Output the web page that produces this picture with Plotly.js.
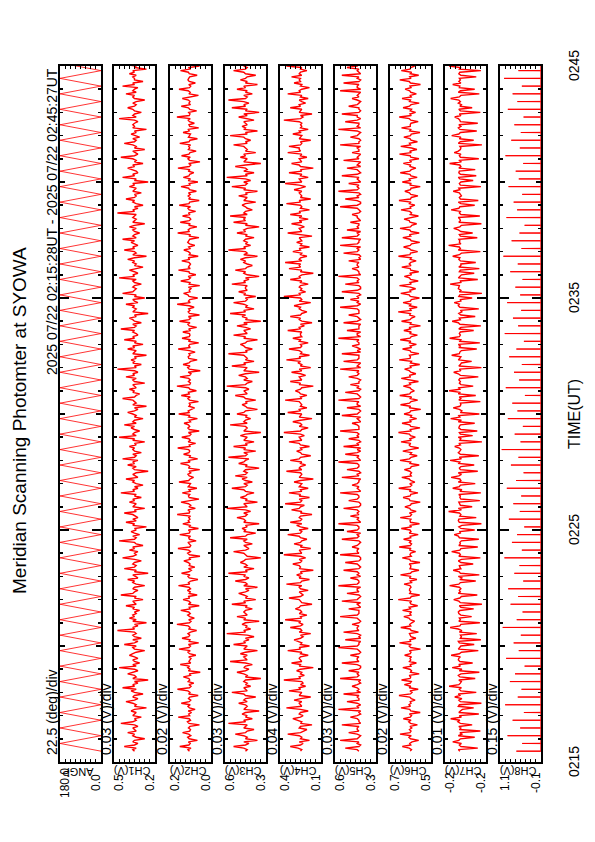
<!DOCTYPE html>
<html><head><meta charset="utf-8">
<script src="https://cdn.plot.ly/plotly-3.0.1.min.js"></script>
<style>
html,body{margin:0;padding:0;background:#fff;width:595px;height:842px;overflow:hidden;}
#wrap{position:absolute;left:0;top:842px;width:842px;height:595px;transform-origin:0 0;transform:rotate(-90deg);}
</style></head>
<body><div id="wrap"><div id="chart"></div></div>
<script>
// ---------------- DATA ----------------
const chartTitle = 'Meridian Scanning Photomter at SYOWA';
const periodText = '2025 07/22 02:15:28UT - 2025 07/22 02:45:27UT';
const timeTitle = 'TIME(UT)';
const timeTickVals = [15, 25, 35, 45];          // minutes after 02:00
const timeTickText = ['0215', '0225', '0235', '0245'];
const dataStartMin = 15 + 28 / 60;              // 02:15:28
const scanHalfSec = 20;                         // one mirror sweep
const samplesPerHalfScan = 5;

const panelNames = ['ANGP', 'CH1(V)', 'CH2(V)', 'CH3(V)', 'CH4(V)', 'CH5(V)', 'CH6(V)', 'CH7(V)', 'CH8(V)'];
const panelScale = ['22.5 (deg)/div', '0.03 (V)/div', '0.02 (V)/div', '0.03 (V)/div', '0.04 (V)/div', '0.03 (V)/div', '0.02 (V)/div', '0.01 (V)/div', '0.15 (V)/div'];
const panelTopLabel = ['180.0', '0.5', '0.2', '0.6', '0.4', '0.6', '0.7', '-0.2', '1.1'];
const panelBotLabel = ['0.0', '0.2', '0.0', '0.3', '0.1', '0.3', '0.5', '-0.2', '-0.1'];
const panelLo = [0, 0.23, 0.03, 0.33, 0.12, 0.34, 0.54, -0.24, -0.10];
const panelHi = [180, 0.47, 0.19, 0.57, 0.44, 0.58, 0.70, -0.16, 1.10];

// scan angle at each sweep turning point (deg)
const angp = [0,180,0,180,0,180,0,180,0,180,0,180,0,180,0,180,0,180,0,180,
0,180,0,180,0,180,0,180,0,180,0,180,0,180,0,180,0,180,0,180,
0,180,0,180,0,180,0,180,0,180,0,180,0,180,0,180,0,180,0,180,
0,180,0,180,0,180,0,180,0,180,0,180,0,180,0,180,0,180,0,180,
0,180,0,180,0,180,0,180,0,180,0];

const ch1 = [
0.35,0.36,0.34,0.41,0.35,0.33,0.36,0.35,0.29,0.34,0.36,0.35,0.39,0.34,0.35,
0.36,0.33,0.35,0.43,0.36,0.34,0.35,0.31,0.36,0.35,0.34,0.37,0.35,0.28,0.35,
0.34,0.36,0.40,0.35,0.33,0.36,0.35,0.30,0.35,0.37,0.34,0.42,0.35,0.36,0.33,
0.35,0.27,0.36,0.34,0.35,0.39,0.36,0.33,0.35,0.44,0.34,0.36,0.32,0.35,0.36,
0.33,0.35,0.38,0.36,0.34,0.29,0.35,0.36,0.34,0.41,0.35,0.33,0.36,0.31,0.35,
0.36,0.34,0.35,0.45,0.35,0.36,0.33,0.35,0.28,0.36,0.34,0.38,0.35,0.36,0.34,
0.35,0.32,0.36,0.35,0.40,0.34,0.35,0.36,0.30,0.35,0.34,0.43,0.36,0.35,0.33,
0.36,0.35,0.29,0.34,0.36,0.35,0.39,0.33,0.35,0.36,0.27,0.35,0.34,0.41,0.35,
0.34,0.36,0.35,0.31,0.35,0.42,0.36,0.34,0.35,0.33,0.38,0.35,0.36,0.30,0.34,
0.35,0.44,0.35,0.34,0.36,0.32,0.35,0.37,0.34,0.35,0.28,0.36,0.35,0.40,0.34,
0.36,0.33,0.35,0.36,0.41,0.34,0.35,0.29,0.36,0.35,0.34,0.38,0.35,0.36,0.31,
0.35,0.34,0.43,0.35,0.36,0.33,0.35,0.30,0.34,0.36,0.35,0.40,0.33,0.35,0.36,
0.34,0.27,0.35,0.36,0.34,0.39,0.35,0.36,0.33,0.42,0.35,0.34,0.36,0.31,0.35,
0.36,0.35,0.38,0.34,0.35,0.29,0.36,0.35,0.44,0.34,0.36,0.35,0.32,0.35,0.37,
0.35,0.41,0.34,0.36,0.35,0.30,0.35,0.34,0.36,0.39,0.35,0.33,0.35,0.28,0.36,
0.34,0.35,0.36,0.42,0.35,0.34,0.32,0.36,0.35,0.38,0.34,0.35,0.36,0.29,0.35,
0.36,0.34,0.40,0.35,0.36,0.33,0.35,0.45,0.34,0.35,0.31,0.36,0.35,0.37,0.34,
0.35,0.28,0.36,0.35,0.34,0.39,0.35,0.36,0.30,0.35,0.34,0.41,0.35,0.36,0.33,
0.34,0.36,0.35,0.43,0.35,0.34,0.36,0.31,0.35,0.36,0.38,0.34,0.35,0.27,0.36,
0.35,0.34,0.36,0.35,0.40,0.33,0.35,0.36,0.29,0.35,0.34,0.42,0.36,0.35,0.34,
0.36,0.35,0.31,0.35,0.36,0.34,0.44,0.35,0.36,0.33,0.35,0.38,0.34,0.30,0.35,
0.34,0.36,0.35,0.39,0.35,0.28,0.36,0.34,0.35,0.41,0.35,0.36,0.33,0.35,0.37,
0.35,0.42,0.34,0.36,0.35,0.32,0.35,0.36,0.34,0.38,0.35,0.29,0.36,0.35,0.34,
0.36,0.35,0.34,0.45,0.35,0.36,0.33,0.35,0.30,0.34,0.36,0.35,0.40,0.35,0.34,
0.35,0.31,0.36,0.35,0.34,0.38,0.35,0.36,0.27,0.35,0.34,0.42,0.35,0.36,0.33,
0.34,0.36,0.39,0.35,0.36,0.30,0.35,0.34,0.36,0.43,0.35,0.33,0.35,0.36,0.29,
0.35,0.34,0.36,0.41,0.35,0.34,0.36,0.32,0.35,0.37,0.34,0.35,0.28,0.36,0.35,
0.36,0.35,0.33,0.35,0.44,0.34,0.36,0.35,0.31,0.35,0.36,0.39,0.35,0.34,0.36,
0.34,0.29,0.35,0.36,0.35,0.40,0.34,0.36,0.35,0.33,0.42,0.35,0.36,0.30,0.35,
0.35,0.36,0.34,0.38,0.35,0.36,0.28,0.35,0.34,0.41,0.36,0.35,0.33,0.35,0.36];

const ch2 = [
0.114,0.120,0.108,0.152,0.116,0.111,0.118,0.083,0.115,0.121,0.109,0.117,0.141,0.113,0.110,
0.118,0.112,0.075,0.116,0.122,0.110,0.115,0.158,0.113,0.117,0.106,0.119,0.092,0.114,0.120,
0.111,0.146,0.115,0.109,0.118,0.113,0.080,0.117,0.112,0.120,0.161,0.114,0.108,0.116,0.097,
0.119,0.113,0.116,0.138,0.110,0.115,0.072,0.118,0.112,0.121,0.114,0.150,0.109,0.116,0.113,
0.108,0.117,0.089,0.114,0.120,0.111,0.155,0.116,0.110,0.118,0.078,0.115,0.112,0.143,0.117,
0.113,0.120,0.110,0.086,0.116,0.112,0.119,0.163,0.114,0.108,0.117,0.095,0.113,0.121,0.111,
0.117,0.148,0.112,0.115,0.076,0.118,0.110,0.116,0.139,0.113,0.119,0.084,0.115,0.111,0.122,
0.110,0.116,0.157,0.113,0.118,0.109,0.081,0.115,0.120,0.112,0.145,0.116,0.107,0.118,0.093,
0.115,0.112,0.119,0.136,0.111,0.116,0.073,0.114,0.121,0.110,0.117,0.159,0.113,0.109,0.116,
0.120,0.088,0.114,0.117,0.110,0.152,0.115,0.112,0.118,0.079,0.116,0.111,0.140,0.114,0.119,
0.112,0.117,0.110,0.162,0.115,0.113,0.120,0.091,0.116,0.109,0.118,0.147,0.112,0.077,0.115,
0.118,0.113,0.142,0.111,0.116,0.085,0.119,0.114,0.110,0.155,0.117,0.112,0.098,0.115,0.120,
0.109,0.116,0.074,0.118,0.113,0.120,0.149,0.112,0.117,0.082,0.114,0.111,0.137,0.116,0.113,
0.117,0.160,0.112,0.115,0.090,0.119,0.111,0.116,0.144,0.113,0.108,0.118,0.076,0.114,0.120,
0.113,0.118,0.135,0.110,0.115,0.083,0.117,0.112,0.156,0.114,0.119,0.109,0.094,0.116,0.111,
0.116,0.079,0.114,0.120,0.111,0.146,0.115,0.118,0.087,0.112,0.117,0.163,0.113,0.110,0.118,
0.111,0.117,0.151,0.113,0.108,0.119,0.072,0.115,0.121,0.112,0.139,0.116,0.110,0.084,0.117,
0.119,0.112,0.116,0.092,0.114,0.158,0.111,0.117,0.113,0.078,0.118,0.110,0.143,0.115,0.112,
0.114,0.140,0.110,0.117,0.086,0.115,0.120,0.112,0.153,0.116,0.109,0.118,0.075,0.114,0.119,
0.112,0.117,0.096,0.115,0.162,0.111,0.118,0.113,0.082,0.116,0.120,0.137,0.112,0.115,0.108,
0.118,0.074,0.115,0.112,0.148,0.117,0.110,0.119,0.089,0.114,0.116,0.157,0.111,0.118,0.113,
0.110,0.116,0.144,0.113,0.119,0.080,0.115,0.111,0.118,0.136,0.112,0.117,0.093,0.114,0.121,
0.117,0.113,0.077,0.116,0.110,0.160,0.114,0.119,0.112,0.085,0.117,0.111,0.150,0.115,0.109,
0.114,0.141,0.112,0.118,0.090,0.115,0.120,0.110,0.154,0.116,0.113,0.076,0.117,0.112,0.119,
0.111,0.118,0.087,0.114,0.117,0.147,0.112,0.115,0.081,0.119,0.110,0.138,0.116,0.113,0.097,
0.119,0.112,0.159,0.115,0.109,0.117,0.073,0.114,0.120,0.111,0.145,0.116,0.112,0.088,0.118,
0.113,0.117,0.110,0.152,0.116,0.112,0.083,0.118,0.114,0.110,0.139,0.115,0.120,0.078,0.113,
0.116,0.095,0.114,0.119,0.111,0.163,0.115,0.112,0.117,0.086,0.113,0.118,0.146,0.110,0.116,
0.112,0.118,0.142,0.113,0.079,0.116,0.111,0.119,0.155,0.114,0.109,0.117,0.091,0.115,0.120,
0.117,0.113,0.084,0.115,0.118,0.149,0.112,0.116,0.075,0.114,0.119,0.137,0.111,0.116,0.113];

const ch3 = [
0.45,0.44,0.46,0.52,0.45,0.43,0.46,0.38,0.45,0.44,0.46,0.51,0.45,0.44,0.40,
0.46,0.45,0.44,0.55,0.45,0.46,0.41,0.45,0.44,0.47,0.45,0.37,0.46,0.45,0.44,
0.45,0.49,0.44,0.46,0.45,0.39,0.45,0.46,0.53,0.44,0.45,0.46,0.42,0.45,0.44,
0.46,0.45,0.36,0.45,0.44,0.46,0.50,0.45,0.43,0.46,0.45,0.41,0.45,0.54,0.44,
0.45,0.46,0.44,0.48,0.45,0.38,0.46,0.45,0.44,0.52,0.45,0.46,0.43,0.45,0.40,
0.44,0.56,0.45,0.46,0.42,0.45,0.44,0.47,0.45,0.37,0.46,0.45,0.50,0.44,0.45,
0.46,0.45,0.41,0.45,0.44,0.53,0.45,0.46,0.39,0.45,0.44,0.46,0.49,0.45,0.43,
0.45,0.38,0.46,0.44,0.45,0.51,0.45,0.43,0.46,0.45,0.55,0.44,0.45,0.40,0.46,
0.44,0.45,0.48,0.46,0.45,0.36,0.44,0.45,0.46,0.52,0.45,0.43,0.45,0.46,0.41,
0.45,0.46,0.44,0.54,0.45,0.44,0.39,0.46,0.45,0.47,0.44,0.45,0.37,0.46,0.45,
0.46,0.50,0.45,0.44,0.46,0.42,0.45,0.56,0.44,0.45,0.46,0.38,0.45,0.44,0.48,
0.45,0.44,0.40,0.45,0.46,0.53,0.45,0.44,0.46,0.41,0.45,0.47,0.44,0.51,0.45,
0.44,0.46,0.45,0.37,0.45,0.44,0.49,0.46,0.45,0.43,0.55,0.45,0.44,0.46,0.39,
0.46,0.45,0.52,0.44,0.45,0.40,0.46,0.45,0.44,0.48,0.45,0.36,0.46,0.45,0.44,
0.45,0.54,0.44,0.46,0.45,0.42,0.45,0.44,0.50,0.46,0.45,0.38,0.44,0.45,0.47,
0.44,0.45,0.39,0.45,0.46,0.51,0.44,0.45,0.46,0.43,0.45,0.56,0.45,0.44,0.41,
0.46,0.44,0.45,0.49,0.45,0.37,0.46,0.45,0.44,0.53,0.45,0.46,0.40,0.45,0.44,
0.45,0.46,0.55,0.44,0.45,0.41,0.45,0.46,0.48,0.45,0.44,0.38,0.46,0.45,0.52,
0.44,0.45,0.46,0.42,0.45,0.50,0.44,0.46,0.36,0.45,0.44,0.47,0.45,0.54,0.45,
0.46,0.40,0.45,0.44,0.46,0.52,0.45,0.44,0.45,0.39,0.46,0.45,0.49,0.44,0.45,
0.45,0.44,0.53,0.45,0.46,0.43,0.45,0.37,0.44,0.46,0.45,0.51,0.45,0.44,0.41,
0.44,0.46,0.45,0.48,0.45,0.38,0.46,0.44,0.45,0.55,0.45,0.46,0.42,0.45,0.44,
0.46,0.45,0.40,0.45,0.44,0.50,0.45,0.46,0.44,0.37,0.45,0.44,0.52,0.45,0.46,
0.45,0.54,0.44,0.46,0.45,0.41,0.44,0.45,0.47,0.45,0.39,0.46,0.45,0.44,0.49,
0.44,0.45,0.38,0.46,0.45,0.53,0.45,0.44,0.46,0.42,0.45,0.56,0.44,0.45,0.40,
0.46,0.44,0.45,0.51,0.45,0.36,0.46,0.45,0.44,0.48,0.45,0.46,0.39,0.45,0.44,
0.45,0.46,0.52,0.44,0.45,0.42,0.45,0.46,0.54,0.44,0.45,0.38,0.46,0.45,0.47,
0.44,0.45,0.46,0.40,0.45,0.49,0.44,0.46,0.37,0.45,0.44,0.53,0.45,0.46,0.43,
0.46,0.55,0.45,0.44,0.46,0.41,0.45,0.44,0.50,0.45,0.46,0.38,0.45,0.44,0.48,
0.45,0.44,0.39,0.45,0.46,0.52,0.45,0.44,0.46,0.43,0.45,0.47,0.36,0.45,0.44];

const ch4 = [
0.28,0.27,0.30,0.36,0.28,0.26,0.29,0.21,0.28,0.27,0.29,0.38,0.28,0.26,0.23,
0.29,0.28,0.19,0.28,0.27,0.30,0.34,0.28,0.26,0.29,0.28,0.22,0.28,0.39,0.27,
0.28,0.29,0.27,0.33,0.28,0.20,0.29,0.28,0.27,0.37,0.28,0.29,0.24,0.28,0.26,
0.27,0.41,0.28,0.29,0.25,0.28,0.27,0.31,0.28,0.18,0.29,0.28,0.35,0.27,0.28,
0.29,0.28,0.22,0.28,0.27,0.38,0.28,0.29,0.21,0.28,0.27,0.30,0.33,0.28,0.26,
0.28,0.20,0.29,0.27,0.28,0.36,0.28,0.26,0.29,0.28,0.40,0.27,0.28,0.23,0.29,
0.27,0.28,0.32,0.29,0.28,0.19,0.27,0.28,0.29,0.37,0.28,0.26,0.28,0.29,0.22,
0.28,0.29,0.27,0.39,0.28,0.27,0.21,0.29,0.28,0.31,0.27,0.28,0.18,0.29,0.28,
0.29,0.34,0.28,0.27,0.29,0.24,0.28,0.41,0.27,0.28,0.29,0.20,0.28,0.27,0.33,
0.28,0.27,0.23,0.28,0.29,0.38,0.28,0.27,0.29,0.22,0.28,0.31,0.27,0.36,0.28,
0.27,0.29,0.28,0.19,0.28,0.27,0.35,0.29,0.28,0.25,0.40,0.28,0.27,0.29,0.21,
0.29,0.28,0.37,0.27,0.28,0.22,0.29,0.28,0.27,0.33,0.28,0.18,0.29,0.28,0.27,
0.28,0.39,0.27,0.29,0.28,0.24,0.28,0.27,0.36,0.29,0.28,0.20,0.27,0.28,0.31,
0.27,0.28,0.21,0.28,0.29,0.37,0.27,0.28,0.29,0.25,0.28,0.41,0.28,0.27,0.22,
0.29,0.27,0.28,0.34,0.28,0.19,0.29,0.28,0.27,0.38,0.28,0.29,0.23,0.28,0.27,
0.28,0.29,0.40,0.27,0.28,0.23,0.28,0.29,0.32,0.28,0.27,0.18,0.29,0.28,0.36,
0.27,0.28,0.29,0.24,0.28,0.35,0.27,0.29,0.20,0.28,0.27,0.30,0.28,0.39,0.28,
0.29,0.21,0.28,0.27,0.29,0.37,0.28,0.27,0.28,0.22,0.29,0.28,0.34,0.27,0.28,
0.28,0.27,0.38,0.28,0.29,0.25,0.28,0.19,0.27,0.29,0.28,0.36,0.28,0.27,0.23,
0.27,0.29,0.28,0.33,0.28,0.20,0.29,0.27,0.28,0.41,0.28,0.29,0.24,0.28,0.27,
0.29,0.28,0.22,0.28,0.27,0.36,0.28,0.29,0.27,0.18,0.28,0.27,0.37,0.28,0.29,
0.28,0.40,0.27,0.29,0.28,0.23,0.28,0.27,0.34,0.28,0.29,0.21,0.28,0.27,0.31,
0.27,0.28,0.29,0.19,0.28,0.38,0.27,0.28,0.29,0.25,0.28,0.35,0.27,0.29,0.22,
0.29,0.27,0.36,0.28,0.29,0.21,0.28,0.27,0.28,0.39,0.28,0.29,0.20,0.28,0.27,
0.28,0.29,0.27,0.33,0.28,0.24,0.29,0.40,0.27,0.28,0.29,0.22,0.28,0.27,0.37,
0.27,0.28,0.18,0.28,0.29,0.35,0.27,0.28,0.29,0.23,0.28,0.27,0.38,0.28,0.29,
0.29,0.37,0.28,0.27,0.28,0.20,0.29,0.28,0.27,0.34,0.28,0.29,0.22,0.28,0.27,
0.28,0.27,0.29,0.41,0.28,0.26,0.28,0.19,0.29,0.28,0.27,0.36,0.28,0.29,0.24,
0.27,0.29,0.22,0.28,0.27,0.38,0.28,0.29,0.27,0.21,0.28,0.27,0.33,0.28,0.29,
0.28,0.35,0.27,0.29,0.28,0.23,0.28,0.27,0.39,0.28,0.29,0.20,0.28,0.27,0.30];

const ch5 = [
0.44,0.45,0.52,0.44,0.43,0.45,0.44,0.55,0.45,0.44,0.43,0.45,0.50,0.44,0.45,
0.45,0.44,0.54,0.43,0.44,0.44,0.45,0.49,0.45,0.43,0.44,0.43,0.56,0.44,0.45,
0.43,0.45,0.51,0.44,0.44,0.45,0.44,0.53,0.43,0.45,0.44,0.45,0.48,0.45,0.43,
0.44,0.43,0.55,0.45,0.44,0.45,0.44,0.50,0.44,0.43,0.43,0.45,0.54,0.44,0.45,
0.45,0.44,0.49,0.44,0.43,0.44,0.45,0.56,0.45,0.44,0.44,0.43,0.52,0.43,0.44,
0.43,0.45,0.53,0.44,0.45,0.45,0.44,0.48,0.44,0.43,0.44,0.45,0.55,0.45,0.44,
0.44,0.44,0.50,0.43,0.44,0.45,0.43,0.54,0.45,0.44,0.43,0.44,0.51,0.44,0.45,
0.45,0.43,0.56,0.45,0.44,0.44,0.45,0.49,0.43,0.45,0.44,0.45,0.53,0.44,0.43,
0.44,0.45,0.52,0.44,0.43,0.43,0.44,0.55,0.44,0.45,0.45,0.44,0.48,0.45,0.44,
0.43,0.44,0.54,0.45,0.44,0.45,0.43,0.51,0.45,0.44,0.44,0.45,0.56,0.43,0.44,
0.45,0.44,0.49,0.44,0.45,0.44,0.45,0.53,0.44,0.43,0.43,0.44,0.50,0.45,0.44,
0.44,0.45,0.55,0.43,0.44,0.45,0.44,0.48,0.45,0.44,0.44,0.43,0.54,0.44,0.45,
0.43,0.44,0.51,0.45,0.44,0.44,0.45,0.56,0.43,0.44,0.45,0.44,0.52,0.45,0.43,
0.45,0.43,0.53,0.44,0.45,0.43,0.44,0.50,0.44,0.45,0.44,0.45,0.55,0.44,0.44,
0.44,0.45,0.48,0.43,0.44,0.45,0.43,0.54,0.45,0.44,0.43,0.44,0.51,0.43,0.45,
0.45,0.44,0.56,0.44,0.43,0.44,0.45,0.52,0.44,0.43,0.45,0.44,0.49,0.44,0.44,
0.43,0.45,0.50,0.45,0.44,0.45,0.44,0.55,0.43,0.45,0.44,0.43,0.53,0.45,0.44,
0.44,0.44,0.54,0.43,0.45,0.43,0.45,0.48,0.44,0.44,0.45,0.44,0.56,0.43,0.45,
0.45,0.43,0.51,0.44,0.44,0.44,0.43,0.53,0.45,0.43,0.44,0.45,0.50,0.44,0.44,
0.44,0.45,0.55,0.45,0.43,0.45,0.44,0.49,0.44,0.45,0.43,0.44,0.54,0.45,0.43,
0.43,0.44,0.52,0.44,0.45,0.44,0.45,0.56,0.43,0.44,0.44,0.45,0.48,0.44,0.45,
0.45,0.44,0.50,0.43,0.44,0.43,0.44,0.53,0.45,0.44,0.45,0.43,0.55,0.45,0.44,
0.44,0.43,0.54,0.45,0.44,0.45,0.43,0.51,0.44,0.45,0.44,0.44,0.49,0.43,0.44,
0.45,0.45,0.48,0.44,0.43,0.44,0.45,0.55,0.45,0.43,0.43,0.45,0.52,0.44,0.45,
0.43,0.44,0.56,0.45,0.44,0.45,0.44,0.50,0.43,0.44,0.45,0.44,0.54,0.45,0.43,
0.44,0.45,0.51,0.43,0.45,0.44,0.43,0.53,0.44,0.45,0.44,0.43,0.48,0.44,0.44,
0.45,0.43,0.55,0.44,0.44,0.43,0.44,0.49,0.45,0.44,0.43,0.45,0.56,0.43,0.45,
0.44,0.44,0.52,0.45,0.43,0.45,0.45,0.54,0.44,0.43,0.44,0.44,0.50,0.45,0.44,
0.43,0.45,0.48,0.44,0.45,0.44,0.43,0.55,0.43,0.45,0.45,0.44,0.53,0.44,0.43,
0.45,0.44,0.54,0.43,0.44,0.45,0.44,0.51,0.45,0.44,0.43,0.45,0.49,0.44,0.45];

const ch6 = [
0.621,0.616,0.625,0.652,0.619,0.623,0.614,0.588,0.620,0.626,0.617,0.661,0.622,0.618,0.624,
0.615,0.622,0.593,0.620,0.627,0.618,0.648,0.621,0.616,0.624,0.582,0.619,0.623,0.657,0.620,
0.626,0.618,0.621,0.602,0.617,0.623,0.665,0.620,0.614,0.622,0.590,0.625,0.619,0.644,0.621,
0.617,0.655,0.622,0.619,0.625,0.586,0.620,0.616,0.623,0.650,0.618,0.621,0.597,0.624,0.619,
0.622,0.616,0.643,0.621,0.618,0.624,0.581,0.619,0.625,0.617,0.663,0.620,0.622,0.599,0.618,
0.620,0.624,0.589,0.617,0.622,0.658,0.619,0.623,0.615,0.604,0.621,0.626,0.646,0.618,0.622,
0.616,0.651,0.620,0.625,0.592,0.618,0.622,0.616,0.668,0.621,0.617,0.584,0.623,0.619,0.624,
0.623,0.618,0.622,0.645,0.616,0.621,0.595,0.624,0.618,0.659,0.620,0.615,0.587,0.622,0.619,
0.619,0.625,0.583,0.620,0.623,0.652,0.617,0.622,0.619,0.600,0.624,0.618,0.664,0.621,0.616,
0.624,0.617,0.647,0.619,0.621,0.590,0.625,0.618,0.622,0.656,0.616,0.623,0.585,0.620,0.622,
0.618,0.660,0.621,0.616,0.624,0.598,0.619,0.623,0.642,0.620,0.617,0.582,0.622,0.625,0.649,
0.621,0.619,0.591,0.624,0.618,0.666,0.621,0.615,0.623,0.603,0.620,0.625,0.654,0.617,0.621,
0.616,0.623,0.644,0.620,0.617,0.586,0.622,0.619,0.661,0.624,0.618,0.594,0.621,0.616,0.650,
0.622,0.588,0.620,0.625,0.619,0.657,0.617,0.622,0.601,0.620,0.624,0.667,0.618,0.621,0.583,
0.619,0.623,0.653,0.617,0.622,0.596,0.620,0.616,0.645,0.623,0.619,0.580,0.625,0.620,0.659,
0.624,0.618,0.592,0.621,0.616,0.662,0.623,0.619,0.605,0.617,0.622,0.648,0.620,0.624,0.589,
0.617,0.656,0.621,0.623,0.599,0.619,0.625,0.643,0.618,0.621,0.584,0.620,0.616,0.664,0.622,
0.620,0.624,0.587,0.618,0.622,0.651,0.616,0.621,0.597,0.624,0.619,0.660,0.622,0.617,0.593,
0.623,0.617,0.646,0.620,0.625,0.581,0.621,0.618,0.655,0.622,0.616,0.602,0.623,0.620,0.668,
0.618,0.622,0.594,0.624,0.619,0.649,0.620,0.617,0.585,0.621,0.625,0.658,0.619,0.622,0.600,
0.621,0.663,0.617,0.622,0.590,0.620,0.624,0.644,0.616,0.623,0.588,0.619,0.621,0.654,0.618,
0.625,0.619,0.598,0.621,0.617,0.667,0.622,0.620,0.592,0.618,0.624,0.647,0.621,0.616,0.584,
0.617,0.622,0.650,0.619,0.624,0.586,0.618,0.623,0.661,0.620,0.615,0.596,0.622,0.625,0.645,
0.622,0.589,0.621,0.616,0.623,0.657,0.619,0.621,0.603,0.624,0.618,0.665,0.620,0.617,0.591,
0.619,0.624,0.642,0.620,0.618,0.582,0.623,0.617,0.652,0.621,0.625,0.594,0.618,0.622,0.660,
0.623,0.617,0.599,0.622,0.620,0.648,0.616,0.624,0.587,0.619,0.621,0.663,0.617,0.623,0.595,
0.616,0.658,0.620,0.624,0.593,0.618,0.622,0.646,0.620,0.617,0.583,0.623,0.619,0.655,0.621,
0.621,0.618,0.590,0.619,0.625,0.664,0.617,0.622,0.600,0.621,0.616,0.649,0.624,0.618,0.586,
0.624,0.620,0.653,0.617,0.621,0.597,0.619,0.623,0.641,0.618,0.622,0.581,0.620,0.625,0.662,
0.618,0.623,0.588,0.621,0.616,0.656,0.622,0.619,0.604,0.624,0.617,0.645,0.621,0.620,0.592];

const ch7 = [
-0.189,-0.186,-0.224,-0.191,-0.188,-0.192,-0.175,-0.187,-0.190,-0.218,-0.186,-0.193,-0.189,-0.229,-0.188,
-0.191,-0.187,-0.213,-0.190,-0.185,-0.189,-0.171,-0.192,-0.188,-0.226,-0.187,-0.190,-0.194,-0.216,-0.186,
-0.188,-0.231,-0.190,-0.187,-0.193,-0.179,-0.189,-0.186,-0.221,-0.191,-0.188,-0.192,-0.168,-0.187,-0.190,
-0.192,-0.187,-0.219,-0.189,-0.186,-0.191,-0.227,-0.188,-0.193,-0.174,-0.190,-0.187,-0.214,-0.189,-0.186,
-0.187,-0.190,-0.172,-0.188,-0.192,-0.225,-0.186,-0.189,-0.191,-0.217,-0.188,-0.186,-0.230,-0.190,-0.192,
-0.190,-0.222,-0.188,-0.193,-0.186,-0.170,-0.189,-0.191,-0.228,-0.187,-0.190,-0.188,-0.212,-0.191,-0.187,
-0.186,-0.189,-0.216,-0.191,-0.188,-0.232,-0.190,-0.187,-0.177,-0.189,-0.192,-0.223,-0.186,-0.190,-0.188,
-0.191,-0.188,-0.169,-0.187,-0.190,-0.220,-0.189,-0.193,-0.186,-0.227,-0.190,-0.188,-0.176,-0.191,-0.189,
-0.188,-0.215,-0.191,-0.186,-0.192,-0.229,-0.187,-0.190,-0.188,-0.173,-0.189,-0.191,-0.224,-0.187,-0.190,
-0.189,-0.192,-0.226,-0.188,-0.186,-0.178,-0.190,-0.189,-0.218,-0.191,-0.187,-0.193,-0.231,-0.188,-0.186,
-0.187,-0.221,-0.189,-0.191,-0.188,-0.167,-0.192,-0.186,-0.213,-0.190,-0.188,-0.187,-0.228,-0.191,-0.189,
-0.190,-0.187,-0.230,-0.189,-0.193,-0.175,-0.188,-0.190,-0.219,-0.186,-0.191,-0.189,-0.172,-0.187,-0.192,
-0.186,-0.224,-0.190,-0.188,-0.191,-0.217,-0.187,-0.189,-0.170,-0.192,-0.188,-0.226,-0.190,-0.186,-0.189,
-0.191,-0.188,-0.179,-0.190,-0.187,-0.232,-0.189,-0.191,-0.186,-0.214,-0.190,-0.188,-0.223,-0.191,-0.187,
-0.188,-0.190,-0.218,-0.186,-0.192,-0.171,-0.189,-0.187,-0.227,-0.190,-0.193,-0.188,-0.176,-0.189,-0.191,
-0.190,-0.229,-0.187,-0.191,-0.188,-0.220,-0.186,-0.190,-0.168,-0.189,-0.187,-0.215,-0.191,-0.188,-0.190,
-0.187,-0.189,-0.225,-0.190,-0.186,-0.177,-0.191,-0.188,-0.231,-0.187,-0.190,-0.192,-0.212,-0.186,-0.189,
-0.191,-0.173,-0.188,-0.189,-0.192,-0.222,-0.187,-0.190,-0.186,-0.228,-0.189,-0.191,-0.169,-0.188,-0.190,
-0.188,-0.190,-0.216,-0.187,-0.191,-0.230,-0.189,-0.186,-0.174,-0.190,-0.188,-0.219,-0.191,-0.187,-0.193,
-0.190,-0.226,-0.189,-0.186,-0.188,-0.178,-0.191,-0.190,-0.213,-0.187,-0.189,-0.232,-0.188,-0.191,-0.186,
-0.187,-0.188,-0.170,-0.191,-0.190,-0.224,-0.186,-0.189,-0.192,-0.217,-0.188,-0.190,-0.227,-0.187,-0.191,
-0.191,-0.220,-0.190,-0.187,-0.189,-0.175,-0.188,-0.192,-0.229,-0.186,-0.190,-0.188,-0.167,-0.191,-0.188,
-0.189,-0.187,-0.223,-0.190,-0.188,-0.214,-0.191,-0.186,-0.177,-0.189,-0.192,-0.231,-0.187,-0.190,-0.189,
-0.186,-0.228,-0.191,-0.188,-0.190,-0.172,-0.187,-0.189,-0.218,-0.191,-0.186,-0.225,-0.190,-0.188,-0.192,
-0.190,-0.188,-0.176,-0.189,-0.187,-0.230,-0.190,-0.188,-0.191,-0.215,-0.189,-0.186,-0.221,-0.190,-0.187,
-0.188,-0.219,-0.187,-0.191,-0.189,-0.169,-0.192,-0.187,-0.226,-0.190,-0.188,-0.191,-0.178,-0.186,-0.190,
-0.191,-0.189,-0.232,-0.186,-0.190,-0.216,-0.188,-0.191,-0.173,-0.187,-0.190,-0.222,-0.189,-0.186,-0.191,
-0.187,-0.224,-0.190,-0.189,-0.186,-0.179,-0.191,-0.188,-0.229,-0.190,-0.187,-0.213,-0.189,-0.192,-0.186,
-0.190,-0.187,-0.171,-0.188,-0.191,-0.227,-0.186,-0.190,-0.218,-0.188,-0.189,-0.175,-0.191,-0.187,-0.190,
-0.188,-0.221,-0.191,-0.187,-0.189,-0.230,-0.188,-0.190,-0.168,-0.186,-0.191,-0.216,-0.190,-0.188,-0.187];

// CH8: peak value at each sweep turning point; baseline between peaks
const ch8Base = -0.095;
const ch8Peaks = [0.62,0.45,0.88,0.51,0.73,0.40,0.95,0.58,0.47,0.81,
0.66,0.38,0.92,0.55,0.70,0.49,1.02,0.61,0.44,0.79,
0.57,0.86,0.42,0.68,0.53,0.97,0.46,0.75,0.60,0.39,
0.84,0.52,0.71,0.48,0.90,0.63,0.41,0.78,0.56,1.05,
0.50,0.67,0.43,0.87,0.59,0.74,0.37,0.93,0.54,0.69,
0.46,0.83,0.62,0.40,0.96,0.57,0.72,0.48,0.89,0.51,
0.65,0.44,0.80,0.58,1.00,0.47,0.76,0.53,0.38,0.91,
0.60,0.70,0.45,0.85,0.55,0.64,0.42,0.94,0.52,0.77,
0.49,0.68,0.41,0.87,0.59,0.73,0.46,0.98,0.56,0.63,0.50];

// ---------------- BUILD ----------------
const W = 842, H = 595;
const FONT = '"Liberation Sans", Arial, Helvetica, sans-serif';
const plotLeft = 80, plotRight = 776;
const panelTop = [60, 114, 170, 225, 280, 335, 390, 445, 500];
const panelH = 41;
const PX = x => x / W, PY = y => 1 - y / H;

const turnT = angp.map((v, k) => dataStartMin + k * scanHalfSec / 60);
const sampT = ch1.map((v, i) => dataStartMin + i * scanHalfSec / samplesPerHalfScan / 60);
const ch8x = [], ch8y = [];
ch8Peaks.forEach((p, k) => {
  const t = turnT[k];
  ch8x.push(t - 0.008, t, t + 0.008);
  ch8y.push(ch8Base, p, ch8Base);
});

const series = [
  {x: turnT, y: angp, w: 0.8},
  {x: sampT, y: ch1, w: 1.4}, {x: sampT, y: ch2, w: 1.4}, {x: sampT, y: ch3, w: 1.4},
  {x: sampT, y: ch4, w: 1.4}, {x: sampT, y: ch5, w: 1.4}, {x: sampT, y: ch6, w: 1.4},
  {x: sampT, y: ch7, w: 1.4}, {x: ch8x, y: ch8y, w: 1}
];

const traces = [], shapes = [], layout = {
  width: W, height: H, margin: {l: 0, r: 0, t: 0, b: 0},
  paper_bgcolor: '#fff', plot_bgcolor: '#fff', showlegend: false,
  font: {family: FONT, color: '#000'}, annotations: [], shapes: shapes
};
const innerLabelled = timeTickVals.slice(1, -1);

series.forEach((s, i) => {
  const n = i + 1, sfx = n === 1 ? '' : String(n);
  traces.push({type: 'scatter', mode: 'lines', x: s.x, y: s.y,
    xaxis: 'x' + sfx, yaxis: 'y' + sfx, hoverinfo: 'skip',
    line: {color: '#ff0000', width: s.w}});
  const T = panelTop[i], B = T + panelH;
  layout['xaxis' + sfx] = {
    domain: [PX(plotLeft), PX(plotRight)], range: [timeTickVals[0], timeTickVals[timeTickVals.length - 1]],
    anchor: 'y' + sfx, showline: true, linecolor: '#000', linewidth: 2, mirror: 'ticks',
    ticks: 'inside', tickmode: 'linear', tick0: 15, dtick: 5, ticklen: 5, tickwidth: 1.5, tickcolor: '#000',
    minor: {ticks: 'inside', dtick: 1, ticklen: 3, tickwidth: 1.5, tickcolor: '#000', showgrid: false},
    showticklabels: false, showgrid: false, zeroline: false, fixedrange: true
  };
  const lo = panelLo[i], hi = panelHi[i];
  layout['yaxis' + sfx] = {
    domain: [PY(B), PY(T)], range: [lo, hi], anchor: 'x' + sfx,
    showline: true, linecolor: '#000', linewidth: 2, mirror: 'ticks',
    ticks: 'inside', tickmode: 'linear', tick0: lo, dtick: (hi - lo) / 8, ticklen: 3, tickwidth: 1, tickcolor: '#000',
    showticklabels: false, showgrid: false, zeroline: false, fixedrange: true
  };
  // longer marks at the labelled (10-minute) times
  innerLabelled.forEach(v => {
    shapes.push({type: 'line', xref: 'x' + sfx, yref: 'paper', x0: v, x1: v, y0: PY(T), y1: PY(T + 9), line: {color: '#000', width: 2}});
    shapes.push({type: 'line', xref: 'x' + sfx, yref: 'paper', x0: v, x1: v, y0: PY(B), y1: PY(B - 9), line: {color: '#000', width: 2}});
  });
  const A = layout.annotations;
  A.push({xref: 'paper', yref: 'paper', x: PX(plotLeft + 5), y: PY(T - 8), xanchor: 'left', yanchor: 'middle',
    text: panelScale[i], showarrow: false, font: {size: 14, family: FONT}});
  A.push({xref: 'paper', yref: 'paper', x: PX(59), y: PY(T + 5), xanchor: 'center', yanchor: 'middle',
    text: panelTopLabel[i], showarrow: false, font: {size: 12, family: FONT}});
  A.push({xref: 'paper', yref: 'paper', x: PX(59), y: PY(B - 5), xanchor: 'center', yanchor: 'middle',
    text: panelBotLabel[i], showarrow: false, font: {size: 12, family: FONT}});
  A.push({xref: 'paper', yref: 'paper', x: PX(71), y: PY((T + B) / 2 - 2), xanchor: 'center', yanchor: 'middle',
    text: panelNames[i], textangle: -90, showarrow: false, font: {size: 11, family: FONT}});
});

const A = layout.annotations;
A.push({xref: 'paper', yref: 'paper', x: PX(421), y: PY(20), xanchor: 'center', yanchor: 'middle',
  text: chartTitle, showarrow: false, font: {size: 19, family: FONT}});
A.push({xref: 'paper', yref: 'paper', x: PX(plotRight), y: PY(52), xanchor: 'right', yanchor: 'middle',
  text: periodText, showarrow: false, font: {size: 14, family: FONT}});
timeTickVals.forEach((v, k) => {
  A.push({xref: 'x9', yref: 'paper', x: v, y: PY(574), xanchor: 'center', yanchor: 'middle',
    text: timeTickText[k], showarrow: false, font: {size: 14, family: FONT}});
});
A.push({xref: 'paper', yref: 'paper', x: PX((plotLeft + plotRight) / 2), y: PY(574), xanchor: 'center', yanchor: 'middle',
  text: timeTitle, showarrow: false, font: {size: 16, family: FONT}});

Plotly.newPlot('chart', traces, layout, {displayModeBar: false, staticPlot: true});
</script></body></html>
